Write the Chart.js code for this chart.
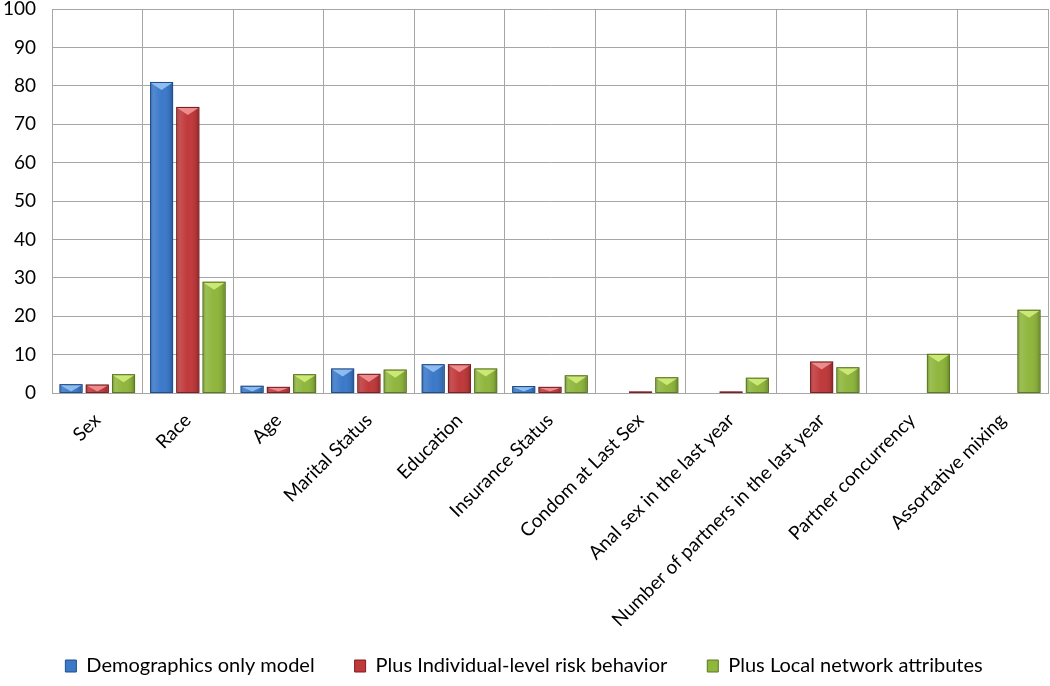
<!DOCTYPE html>
<html>
<head>
<meta charset="utf-8">
<script src="https://cdn.jsdelivr.net/npm/chart.js@4.4.1/dist/chart.umd.min.js"></script>
<style>
  html, body { margin: 0; padding: 0; background: #fff; }
  #wrap { width: 1050px; height: 686px; }
</style>
</head>
<body>
<div id="wrap"><canvas id="plot"></canvas></div>
<script>
// categories + series
var categories = ["Sex", "Race", "Age", "Marital Status", "Education", "Insurance Status",
  "Condom at Last Sex", "Anal sex in the last year", "Number of partners in the last year",
  "Partner concurrency", "Assortative mixing"];
var demographics = [2.3, 81, 1.9, 6.4, 7.5, 1.8, 0, 0, 0, 0, 0];
var individual = [2.2, 74.5, 1.6, 5.0, 7.5, 1.6, 0.4, 0.4, 8.2, 0, 0];
var network = [4.9, 29, 4.9, 6.1, 6.4, 4.6, 4.1, 4.0, 6.7, 10.2, 21.7];
var seriesNames = ["Demographics only model", "Plus Individual-level risk behavior", "Plus Local network attributes"];
var yTicks = [0, 10, 20, 30, 40, 50, 60, 70, 80, 90, 100];

var fills = ["#3b79c9", "#c0393b", "#8fb63d"];
var edges = ["#1e4f8e", "#7f1f21", "#5b7b1f"];
var lights = ["#9cc8f5", "#f29a9b", "#d6f07e"];

// little bevel on top of each bar, drawn from the bar elements chart.js made
const bevel = {
  id: "bevel",
  afterDatasetDraw(chart, args) {
    const ctx = chart.ctx;
    const i = args.index;
    const meta = args.meta;
    ctx.save();
    meta.data.forEach(function (bar) {
      const h = bar.base - bar.y;
      if (h < 1) return;
      const l = bar.x - bar.width / 2, r = bar.x + bar.width / 2;
      // side shading
      const g = ctx.createLinearGradient(l, 0, r, 0);
      g.addColorStop(0, "rgba(0,0,0,0.25)");
      g.addColorStop(0.15, "rgba(255,255,255,0.12)");
      g.addColorStop(0.5, "rgba(255,255,255,0.0)");
      g.addColorStop(0.85, "rgba(0,0,0,0.08)");
      g.addColorStop(1, "rgba(0,0,0,0.3)");
      ctx.fillStyle = g;
      ctx.fillRect(l + 1, bar.y + 1, bar.width - 2, h - 1);
      // top highlight triangle
      const th = Math.min(bar.width * 0.35, h - 1);
      ctx.beginPath();
      ctx.moveTo(l + 1, bar.y + 1);
      ctx.lineTo(r - 1, bar.y + 1);
      ctx.lineTo(bar.x, bar.y + th);
      ctx.closePath();
      ctx.fillStyle = lights[i];
      ctx.globalAlpha = 0.85;
      ctx.fill();
      ctx.globalAlpha = 1;
      ctx.strokeStyle = edges[i];
      ctx.lineWidth = 1;
      ctx.strokeRect(l + 0.5, bar.y + 0.5, bar.width - 1, h - 0.5);
    });
    ctx.restore();
  }
};

const chart = new Chart(document.getElementById("plot").getContext("2d"), {
  type: "bar",
  data: {
    labels: categories,
    datasets: [
      { label: seriesNames[0], data: demographics, backgroundColor: fills[0], borderColor: edges[0], borderWidth: 1 },
      { label: seriesNames[1], data: individual, backgroundColor: fills[1], borderColor: edges[1], borderWidth: 1 },
      { label: seriesNames[2], data: network, backgroundColor: fills[2], borderColor: edges[2], borderWidth: 1 },
    ],
  },
  options: {
    responsive: true,
    maintainAspectRatio: false,
    animation: false,
    layout: { padding: { top: 9, right: 2, left: 0, bottom: 0 } },
    datasets: { bar: { categoryPercentage: 0.87, barPercentage: 0.88 } },
    plugins: {
      tooltip: { enabled: false },
      legend: {
        position: "bottom",
        labels: {
          color: "#000",
          font: { family: "Lato", size: 20 },
          boxWidth: 11,
          boxHeight: 12,
          padding: 40,
        },
      },
    },
    scales: {
      x: {
        grid: { color: "#a6a6a6", drawTicks: false, offset: true },
        border: { color: "#a6a6a6" },
        ticks: {
          color: "#000",
          font: { family: "Lato", size: 19 },
          maxRotation: 45,
          minRotation: 45,
          padding: 16,
          autoSkip: false,
        },
        afterFit: function (s) {
          s.height = 223;
          s._computeLabelArea = function () { return undefined; }; // long label runs past the box, don't clip it
        },
      },
      y: {
        min: 0,
        max: 100,
        afterBuildTicks: function (s) { s.ticks = yTicks.map(function (v) { return { value: v }; }); },
        grid: { color: "#a6a6a6", drawTicks: false },
        border: { color: "#a6a6a6" },
        ticks: { color: "#000", font: { family: "Lato", size: 19 }, padding: 16 },
        afterFit: function (s) { s.width = 52; s.paddingTop = 0; s.paddingBottom = 0; },
      },
    },
  },
  plugins: [bevel],
});
</script>
</body>
</html>
